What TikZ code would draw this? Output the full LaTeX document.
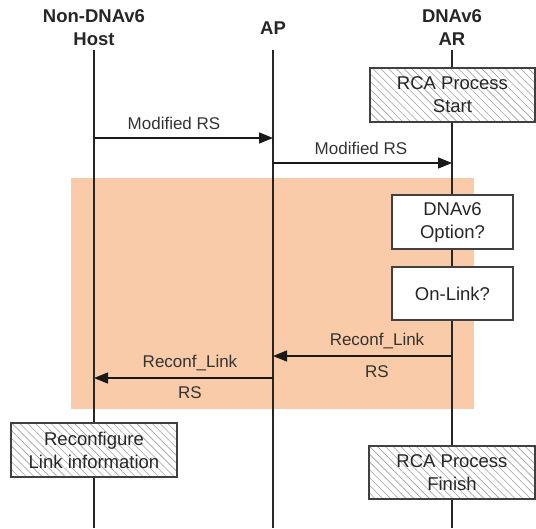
\documentclass[tikz,border=0pt]{standalone}
\usepackage{fontspec}
\setmainfont{Liberation Sans}
\usetikzlibrary{arrows.meta,patterns.meta}
\definecolor{bgorange}{RGB}{249,203,168}
\definecolor{boxline}{RGB}{64,64,64}
\definecolor{hatchgray}{RGB}{160,160,160}
\begin{document}
\begin{tikzpicture}[x=1pt,y=-1pt,
  title/.style={font=\fontsize{18.5}{23}\selectfont\bfseries, align=center, inner sep=0pt, text=black!85},
  lbl/.style={font=\fontsize{17}{20}\selectfont, inner sep=0pt, text=black!80},
  life/.style={line width=1.8pt, draw=black!85},
  msg/.style={line width=1.4pt, draw=black!90, -{Triangle[length=14pt,width=11pt]}},
  plainbox/.style={draw=boxline, line width=1.2pt, fill=white, align=center, inner sep=0pt, outer sep=0pt,
    font=\fontsize{18.5}{23}\selectfont, text=black!85},
  hatchbox/.style={plainbox, preaction={fill=white},
    pattern={Lines[angle=-45,distance=5.5pt,line width=0.6pt]}, pattern color=hatchgray}
]
\useasboundingbox (0,0) rectangle (536,528);

% shaded zone
\node[fill=bgorange, draw=none, inner sep=0pt, minimum width=403pt, minimum height=231pt] (zone) at (272.5,293.5) {};

% titles
\node[title] (thost) at (94,27.5) {Non-DNAv6\\Host};
\node[title] (tap) at (273,28) {AP};
\node[title] (tar) at (452,27.5) {DNAv6\\AR};

% lifelines
\coordinate (hT) at (94,50);  \coordinate (hB) at (94,528);
\coordinate (aT) at (273,50); \coordinate (aB) at (273,528);
\coordinate (rT) at (452,50); \coordinate (rB) at (452,528);
\draw[life] (hT) -- (hB);
\draw[life] (aT) -- (aB);
\draw[life] (rT) -- (rB);

% message points
\coordinate (h1) at (94,138);  \coordinate (a1) at (273,138);
\coordinate (a2) at (273,163); \coordinate (r2) at (452,163);
\coordinate (r3) at (452,356); \coordinate (a3) at (273,356);
\coordinate (a4) at (273,378); \coordinate (h4) at (94,378);

\draw[msg] (h1) -- (a1);
\draw[msg] (a2) -- (r2);
\draw[msg] (r3) -- (a3);
\draw[msg] (a4) -- (h4);

% labels
\node[lbl] (l1) at (174,123) {Modified RS};
\node[lbl] (l2) at (361,148) {Modified RS};
\node[lbl] (l3) at (377,341) {Reconf\_Link};
\node[lbl] (l3b) at (377,372) {RS};
\node[lbl] (l4) at (190,363) {Reconf\_Link};
\node[lbl] (l4b) at (190,393) {RS};

% boxes
\node[hatchbox, minimum width=165pt, minimum height=54pt] (start) at (452.5,95) {RCA Process\\Start};
\node[plainbox, minimum width=121pt, minimum height=54pt] (opt) at (452.5,222) {DNAv6\\Option?};
\node[plainbox, minimum width=121pt, minimum height=53pt] (onlink) at (452.5,293.5) {On-Link?};
\node[hatchbox, minimum width=166pt, minimum height=54pt] (reconf) at (94,450) {Reconfigure\\Link information};
\node[hatchbox, minimum width=166pt, minimum height=53pt] (finish) at (452,472.5) {RCA Process\\Finish};
\end{tikzpicture}
\end{document}
